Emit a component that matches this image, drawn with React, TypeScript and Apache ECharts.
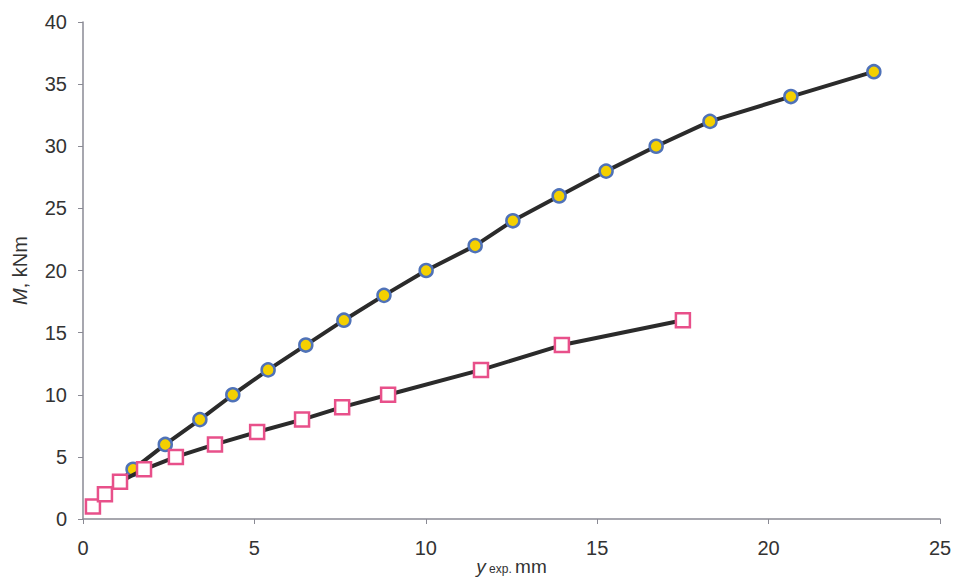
import React, { useEffect, useRef } from "react";
import * as echarts from "echarts";

// Series A (circles): deflection y_exp (mm) vs moment M (kNm)
const circleX = [0.29, 0.64, 1.08, 1.46, 2.4, 3.41, 4.37, 5.4, 6.5, 7.61, 8.78, 10.01, 11.44, 12.54, 13.89, 15.26, 16.72, 18.29, 20.65, 23.07];
const circleY = [1, 2, 3, 4, 6, 8, 10, 12, 14, 16, 18, 20, 22, 24, 26, 28, 30, 32, 34, 36];
const circleHidden = [true, true, true];

// Series B (squares)
const squareX = [0.29, 0.64, 1.08, 1.78, 2.71, 3.85, 5.08, 6.39, 7.56, 8.9, 11.61, 13.97, 17.5];
const squareY = [1, 2, 3, 4, 5, 6, 7, 8, 9, 10, 12, 14, 16];

const xMin = 0, xMax = 25, xStep = 5;
const yMin = 0, yMax = 40, yStep = 5;

export default function App() {
  const ref = useRef<HTMLDivElement>(null);
  useEffect(() => {
    if (!ref.current) return;
    const chart = echarts.init(ref.current, null, { renderer: "svg" });
    const font = "Liberation Sans, Arial, sans-serif";
    const axisLine = { show: true, lineStyle: { color: "#8a8a94", width: 1.5 } };
    const circleData = circleX.map((x, i) =>
      circleHidden[i] ? { value: [x, circleY[i]], symbol: "none" } : { value: [x, circleY[i]] }
    );
    const squareData = squareX.map((x, i) => [x, squareY[i]]);
    chart.setOption({
      animation: false,
      backgroundColor: "#ffffff",
      grid: { left: 83, right: 14, top: 22, bottom: 62, outerBoundsMode: "none", containLabel: false },
      xAxis: {
        type: "value",
        min: xMin,
        max: xMax,
        interval: xStep,
        axisLine,
        axisTick: { show: true, length: 5, lineStyle: { color: "#8a8a94" } },
        splitLine: { show: false },
        axisLabel: { color: "#333", fontSize: 20, fontFamily: font, margin: 19 },
        name: "{i|y}{sub| exp.} {n|mm}",
        nameLocation: "middle",
        nameMoveOverlap: false,
        nameGap: 38,
        nameTextStyle: {
          fontFamily: font,
          color: "#333",
          rich: {
            i: { fontSize: 19, fontStyle: "italic", fontFamily: font, color: "#333", lineHeight: 19 },
            sub: { fontSize: 12, fontFamily: font, color: "#333", lineHeight: 12, padding: [5, 0, 0, 0] },
            n: { fontSize: 19, fontFamily: font, color: "#333", lineHeight: 19 },
          },
        },
      },
      yAxis: {
        type: "value",
        min: yMin,
        max: yMax,
        interval: yStep,
        axisLine,
        axisTick: { show: true, length: 5, lineStyle: { color: "#8a8a94" } },
        splitLine: { show: false },
        axisLabel: { color: "#333", fontSize: 20, fontFamily: font, margin: 16 },
        name: "{i|M}{n|, kNm}",
        nameLocation: "middle",
        nameRotate: 90,
        nameGap: 53,
        nameTextStyle: {
          fontFamily: font,
          color: "#333",
          rich: {
            i: { fontSize: 20, fontStyle: "italic", fontFamily: font, color: "#333" },
            n: { fontSize: 20, fontFamily: font, color: "#333" },
          },
        },
      },
      series: [
        {
          type: "line",
          data: circleData,
          symbol: "circle",
          symbolSize: 13,
          lineStyle: { color: "#2b2b2b", width: 4 },
          itemStyle: { color: "#f4d000", borderColor: "#4f72b8", borderWidth: 2.5 },
          z: 2,
        },
        {
          type: "line",
          data: squareData,
          symbol: "rect",
          symbolSize: 14,
          lineStyle: { color: "#2b2b2b", width: 4 },
          itemStyle: { color: "#ffffff", borderColor: "#e8508a", borderWidth: 2.5 },
          z: 3,
        },
      ],
    });
    return () => chart.dispose();
  }, []);
  return <div ref={ref} style={{ width: 954, height: 581, position: "absolute", left: 0, top: 0 }} />;
}
